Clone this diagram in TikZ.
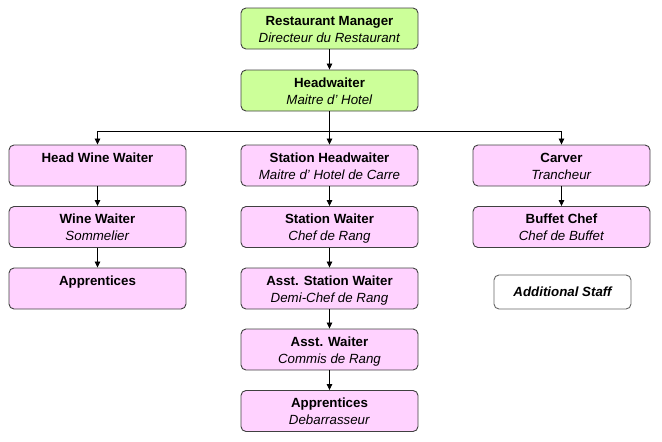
\documentclass[tikz,border=0pt]{standalone}
\usepackage{fontspec}
\setmainfont{Liberation Sans}
\usetikzlibrary{arrows.meta}
\definecolor{boxgreen}{RGB}{204,255,153}
\definecolor{boxpink}{RGB}{255,210,255}
\definecolor{boxedge}{RGB}{64,64,64}
\tikzset{
  orgbox/.style={draw=boxedge, line width=0.9pt, rounded corners=5pt,
    minimum width=177pt, minimum height=41pt, inner sep=0pt, align=center,
    font=\fontsize{13.3}{17}\selectfont},
  greenbox/.style={orgbox, fill=boxgreen},
  pinkbox/.style={orgbox, fill=boxpink},
  notebox/.style={draw=boxedge!80, line width=0.9pt, rounded corners=5pt, fill=white,
    minimum width=137pt, minimum height=34pt, inner sep=0pt,
    font=\fontsize{13.3}{16}\selectfont\bfseries\itshape},
  link/.style={draw=black, line width=0.8pt, -{Triangle[length=6pt,width=5.5pt]}},
}
\newcommand{\lnstrut}{\rule[-3pt]{0pt}{16pt}}
\newcommand{\ttl}[2]{\textbf{#1}\lnstrut\\\textit{#2}\lnstrut}
\newcommand{\onl}[1]{\textbf{#1}\lnstrut\\\lnstrut}
\begin{document}
\begin{tikzpicture}[x=1pt,y=-1pt]
\useasboundingbox (0,0) rectangle (662,442);
\node[greenbox] (rm) at (329.5,28.5) {\ttl{Restaurant Manager}{Directeur du Restaurant}};
\node[greenbox] (hw) at (329.5,90.5) {\ttl{Headwaiter}{Maitre d' Hotel}};
\node[pinkbox] (hww) at (97.5,165.5) {\onl{Head Wine Waiter}};
\node[pinkbox] (shw) at (329.5,165.5) {\ttl{Station Headwaiter}{Maitre d' Hotel de Carre}};
\node[pinkbox] (cv) at (561.5,165.5) {\ttl{Carver}{Trancheur}};
\node[pinkbox] (ww) at (97.5,227) {\ttl{Wine Waiter}{Sommelier}};
\node[pinkbox] (sw) at (329.5,227) {\ttl{Station Waiter}{Chef de Rang}};
\node[pinkbox] (bc) at (561.5,227) {\ttl{Buffet Chef}{Chef de Buffet}};
\node[pinkbox] (ap) at (97.5,288.5) {\onl{Apprentices}};
\node[pinkbox] (asw) at (329.5,288.5) {\ttl{Asst. Station Waiter}{Demi-Chef de Rang}};
\node[pinkbox] (aw) at (329.5,349.5) {\ttl{Asst. Waiter}{Commis de Rang}};
\node[pinkbox] (db) at (329.5,411) {\ttl{Apprentices}{Debarrasseur}};
\node[notebox] (as) at (562.5,292) {Additional Staff};
\coordinate (bus) at (329.5,131.5);
\draw[link] (rm) -- (hw);
\draw[link] (hw) -- (shw);
\draw[link] (hw.south) -- (bus) -| (hww.north);
\draw[link] (bus) -| (cv.north);
\draw[link] (hww) -- (ww);
\draw[link] (ww) -- (ap);
\draw[link] (shw) -- (sw);
\draw[link] (sw) -- (asw);
\draw[link] (asw) -- (aw);
\draw[link] (aw) -- (db);
\draw[link] (cv) -- (bc);
\end{tikzpicture}
\end{document}
